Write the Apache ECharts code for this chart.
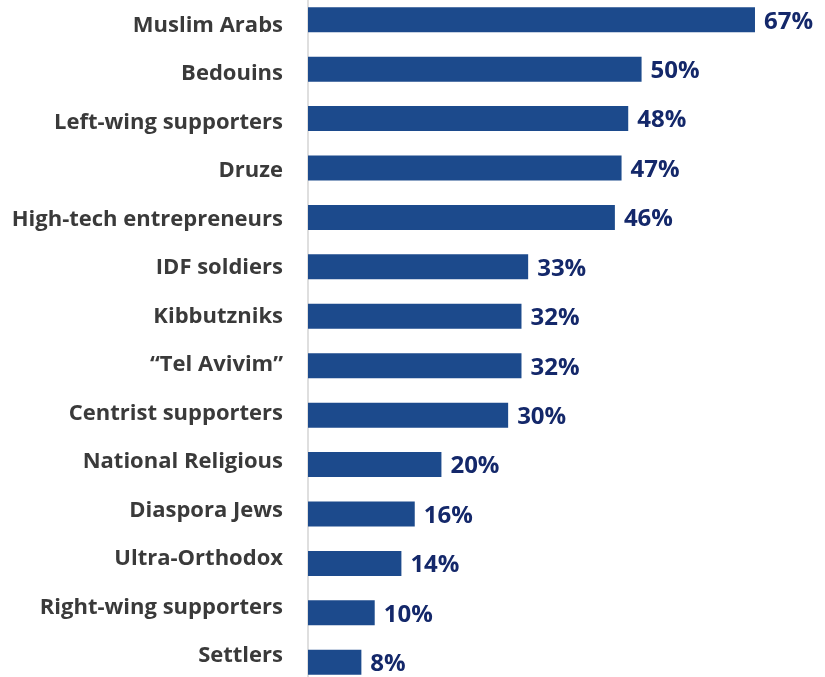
<!DOCTYPE html>
<html>
<head>
<meta charset="utf-8">
<script src="https://cdn.jsdelivr.net/npm/echarts@6/dist/echarts.min.js"></script>
<style>
  html, body { margin: 0; padding: 0; background: #ffffff; }
  #chart { width: 825px; height: 677px; }
</style>
</head>
<body>
<div id="chart"></div>
<script>
// Groups, listed top to bottom
const categories = [
  'Muslim Arabs', 'Bedouins', 'Left-wing supporters', 'Druze',
  'High-tech entrepreneurs', 'IDF soldiers', 'Kibbutzniks', '\u201cTel Avivim\u201d',
  'Centrist supporters', 'National Religious', 'Diaspora Jews', 'Ultra-Orthodox',
  'Right-wing supporters', 'Settlers'
];
// Share (%) for each group
const values = [67, 50, 48, 47, 46, 33, 32, 32, 30, 20, 16, 14, 10, 8];

const FONT = '"Open Sans", "Noto Sans", sans-serif';
const chart = echarts.init(document.getElementById('chart'), null, { renderer: 'canvas' });

chart.setOption({
  animation: false,
  backgroundColor: '#ffffff',
  grid: [
    // bars
    { left: 308, top: -5, width: 467, height: 692, containLabel: false, outerBoundsMode: 'none' },
    // category names
    { left: 308, top: 1, width: 467, height: 679, containLabel: false, outerBoundsMode: 'none' }
  ],
  xAxis: [
    { gridIndex: 0, type: 'value', min: 0, max: 70, show: false },
    { gridIndex: 1, type: 'value', min: 0, max: 70, show: false }
  ],
  yAxis: [
    {
      gridIndex: 0, type: 'category', data: categories, inverse: true,
      axisLine: { show: true, lineStyle: { color: '#d4d4d4', width: 1.5 } },
      axisTick: { show: false },
      axisLabel: { show: false },
      splitLine: { show: false }
    },
    {
      gridIndex: 1, type: 'category', data: categories, inverse: true,
      axisLine: { show: false },
      axisTick: { show: false },
      splitLine: { show: false },
      axisLabel: {
        margin: 25,
        color: '#3a3a3a',
        fontFamily: FONT,
        fontWeight: 'bold',
        fontSize: 22
      }
    }
  ],
  series: [
    {
      type: 'bar',
      xAxisIndex: 0, yAxisIndex: 0,
      data: values,
      barWidth: 25,
      itemStyle: { color: '#1c4a8c' },
      label: {
        show: true,
        position: 'right',
        distance: 9,
        offset: [0, 2],
        formatter: p => p.value + '%',
        color: '#14286a',
        fontFamily: FONT,
        fontWeight: 'bold',
        fontSize: 24
      }
    },
    {
      type: 'bar',
      xAxisIndex: 1, yAxisIndex: 1,
      data: categories.map(() => null),
      silent: true
    }
  ]
});
</script>
</body>
</html>
